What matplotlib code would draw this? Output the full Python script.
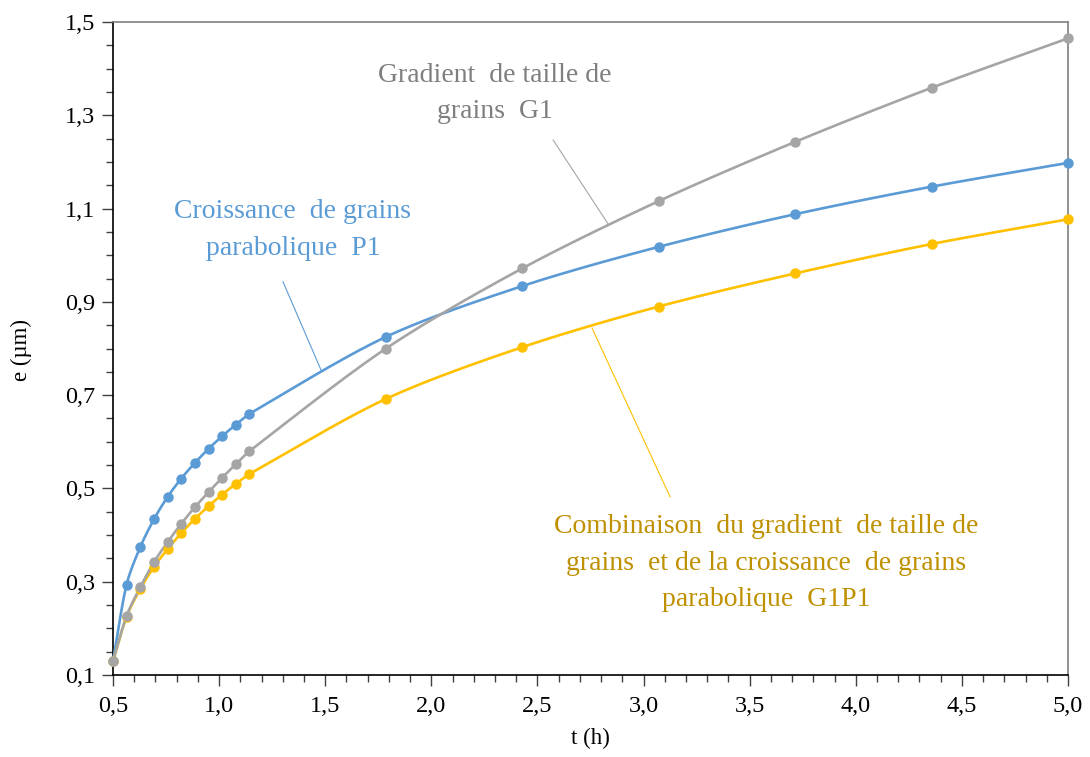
import numpy as np
import matplotlib
matplotlib.use("Agg")
import matplotlib.pyplot as plt
from matplotlib.ticker import MultipleLocator, FuncFormatter

plt.rcParams['font.family'] = ['Liberation Serif', 'DejaVu Serif']

# Time (h)
t = [0.5, 0.564, 0.629, 0.693, 0.757, 0.821, 0.886, 0.95, 1.014, 1.079, 1.143,
     1.786, 2.429, 3.071, 3.714, 4.357, 5.0]

# Thickness e (µm) for each model
e_P1 = [0.13, 0.294, 0.375, 0.434, 0.482, 0.521, 0.555, 0.585, 0.612, 0.637, 0.660,
        0.825, 0.934, 1.018, 1.088, 1.147, 1.198]
e_G1 = [0.13, 0.227, 0.289, 0.342, 0.385, 0.424, 0.460, 0.492, 0.523, 0.552, 0.580,
        0.800, 0.972, 1.116, 1.243, 1.359, 1.465]
e_G1P1 = [0.13, 0.225, 0.285, 0.332, 0.370, 0.404, 0.435, 0.462, 0.487, 0.510, 0.531,
          0.692, 0.803, 0.890, 0.961, 1.024, 1.077]

c_blue = '#5B9BD5'
c_gray = '#A5A5A5'
c_gold = '#FFC000'


def smooth(x, y, n=24):
    """Cardinal (Catmull-Rom style) spline through the points."""
    x = np.asarray(x, float)
    y = np.asarray(y, float)
    px = np.concatenate([[2 * x[0] - x[1]], x, [2 * x[-1] - x[-2]]])
    py = np.concatenate([[2 * y[0] - y[1]], y, [2 * y[-1] - y[-2]]])
    xs, ys = [], []
    s = np.linspace(0, 1, n, endpoint=False)
    for i in range(1, len(px) - 2):
        p0, p1, p2, p3 = (np.array([px[j], py[j]]) for j in range(i - 1, i + 3))
        d = p2 - p1
        k1 = np.linalg.norm(d) / max(np.linalg.norm(p2 - p0), 1e-9) * 2
        k2 = np.linalg.norm(d) / max(np.linalg.norm(p3 - p1), 1e-9) * 2
        m1 = (p2 - p0) / 2 * 0.9 * k1
        m2 = (p3 - p1) / 2 * 0.9 * k2
        for tt in s:
            h00 = 2 * tt**3 - 3 * tt**2 + 1
            h10 = tt**3 - 2 * tt**2 + tt
            h01 = -2 * tt**3 + 3 * tt**2
            h11 = tt**3 - tt**2
            pt = h00 * p1 + h10 * m1 + h01 * p2 + h11 * m2
            xs.append(pt[0])
            ys.append(pt[1])
    xs.append(x[-1])
    ys.append(y[-1])
    return np.array(xs), np.array(ys)


fig = plt.figure(figsize=(10.9, 7.57), dpi=100)
ax = fig.add_axes([0.1037, 0.1083, 0.8761, 0.8626])

for y, c in ((e_P1, c_blue), (e_G1P1, c_gold), (e_G1, c_gray)):
    sx, sy = smooth(t, y)
    ax.plot(sx, sy, color=c, lw=1.9, solid_capstyle='round', zorder=3, clip_on=False)
    ax.plot(t, y, 'o', color=c, ms=6.5, mec=c, zorder=4, clip_on=False)

ax.set_xlim(0.5, 5.0)
ax.set_ylim(0.1, 1.5)
ax.xaxis.set_major_locator(MultipleLocator(0.5))
ax.xaxis.set_minor_locator(MultipleLocator(0.1))
ax.yaxis.set_major_locator(MultipleLocator(0.2, offset=0.1))
ax.yaxis.set_minor_locator(MultipleLocator(0.05))
fmt = FuncFormatter(lambda v, p: f"{v:.1f}".replace('.', ','))
ax.xaxis.set_major_formatter(fmt)
ax.yaxis.set_major_formatter(fmt)

ax.tick_params(which='major', direction='out', length=8, width=1, color='#404040',
               labelsize=17.5, pad=7)
ax.tick_params(which='minor', direction='out', length=5, width=1, color='#404040')
ax.tick_params(axis='y', pad=5)

for side in ('left', 'bottom'):
    ax.spines[side].set_color('black')
    ax.spines[side].set_linewidth(1.2)
for side in ('top', 'right'):
    ax.spines[side].set_color('#7F7F7F')
    ax.spines[side].set_linewidth(1.2)

ax.set_xlabel('t (h)', fontsize=16.5)
ax.set_ylabel('e (µm)', fontsize=16.5)
ax.xaxis.set_label_coords(0.4995, -0.081)
ax.yaxis.set_label_coords(-0.085, 0.498)

# Series labels with leader lines
ax.text(2.30, 1.347, 'Gradient  de taille de\ngrains  G1', color='#7F7F7F',
        fontsize=20, ha='center', va='center', linespacing=1.6)
ax.plot([2.574, 2.833], [1.247, 1.067], color=c_gray, lw=0.8, zorder=2)

ax.text(1.348, 1.054, 'Croissance  de grains\nparabolique  P1', color=c_blue,
        fontsize=20, ha='center', va='center', linespacing=1.6)
ax.plot([1.301, 1.480], [0.943, 0.754], color=c_blue, lw=0.8, zorder=2)

ax.text(3.577, 0.340,
        'Combinaison  du gradient  de taille de\ngrains  et de la croissance  de grains\nparabolique  G1P1',
        color='#BF9000', fontsize=20, ha='center', va='center', linespacing=1.6)
ax.plot([2.757, 3.125], [0.844, 0.482], color=c_gold, lw=0.8, zorder=2)

fig.savefig('out.png', dpi=100)
